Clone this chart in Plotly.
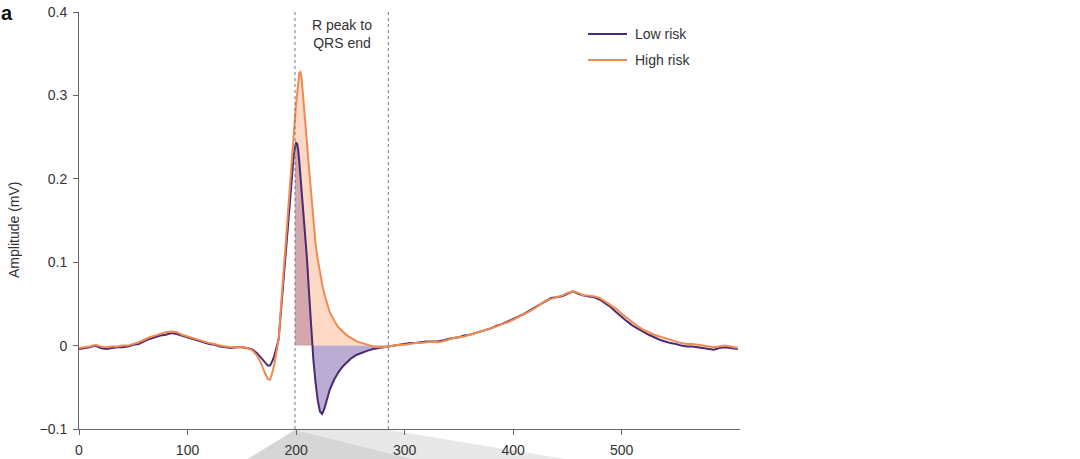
import numpy as np
import plotly.graph_objects as go

# ---------------- data ----------------
sample_x = [0, 5, 10, 15, 20, 25, 30, 35, 40, 45, 50, 55, 60, 65, 70, 75, 80, 85, 90, 95,
            100, 105, 110, 115, 120, 125, 130, 135, 140, 145, 150, 155, 160, 164, 168, 171,
            174, 176, 178, 180, 182, 184, 186, 188, 190, 192, 194, 196, 198, 199, 200, 201,
            202, 203, 204, 205, 206, 208, 210, 212, 214, 216, 218, 220, 222, 224, 226, 228,
            231, 235, 239, 243, 247, 251, 256, 261, 266, 271, 276, 280, 285,
            290, 295, 300, 305, 310, 315, 320, 325, 330, 335, 340, 345, 350, 355, 360, 365,
            370, 375, 380, 385, 390, 395, 400, 405, 410, 415, 420, 425, 430, 435, 440, 445,
            450, 455, 460, 465, 470, 475, 480, 485, 490, 495, 500, 505, 510, 515, 520, 525,
            530, 535, 540, 545, 550, 555, 560, 565, 570, 575, 580, 585, 590, 595, 600, 605, 607]

low_risk = [-0.004, -0.003, -0.002, 0.000, -0.003, -0.004, -0.003, -0.002, -0.002, -0.001,
            0.001, 0.002, 0.005, 0.008, 0.010, 0.012, 0.013, 0.015, 0.014, 0.012,
            0.010, 0.008, 0.006, 0.004, 0.002, 0.001, -0.001, -0.002, -0.003, -0.002,
            -0.002, -0.003, -0.005, -0.009, -0.015, -0.020,
            -0.024, -0.024, -0.019, -0.012, -0.003, 0.008, 0.040, 0.073, 0.107, 0.140,
            0.172, 0.203, 0.230, 0.238, 0.243, 0.242,
            0.234, 0.220, 0.204, 0.187, 0.170, 0.140, 0.105, 0.062, 0.015, -0.018,
            -0.045, -0.066, -0.079, -0.082, -0.076, -0.066,
            -0.053, -0.041, -0.032, -0.025, -0.020, -0.015, -0.011, -0.008, -0.006, -0.004,
            -0.003, -0.002, -0.001,
            0.000, 0.001, 0.002, 0.003, 0.003, 0.004, 0.005, 0.005, 0.005, 0.006, 0.008,
            0.009, 0.010, 0.012, 0.013, 0.015,
            0.017, 0.019, 0.021, 0.024, 0.026, 0.029, 0.032, 0.035, 0.038, 0.042, 0.046,
            0.050, 0.054, 0.057, 0.058, 0.059,
            0.062, 0.065, 0.062, 0.060, 0.059, 0.058, 0.055, 0.051, 0.046, 0.040, 0.034,
            0.029, 0.024, 0.020, 0.016, 0.013,
            0.010, 0.007, 0.005, 0.003, 0.002, 0.000, -0.001, -0.001, -0.002, -0.003,
            -0.004, -0.005, -0.003, -0.002, -0.003, -0.004, -0.004]

high_risk = [-0.003, -0.002, -0.001, 0.001, -0.001, -0.002, -0.001, -0.001, 0.000, 0.000,
             0.002, 0.004, 0.007, 0.010, 0.012, 0.014, 0.016, 0.017, 0.016, 0.013,
             0.011, 0.009, 0.007, 0.005, 0.003, 0.002, 0.000, -0.001, -0.002, -0.002,
             -0.002, -0.003, -0.006, -0.012, -0.022, -0.032,
             -0.040, -0.041, -0.033, -0.022, -0.008, 0.008, 0.045, 0.082, 0.118, 0.153,
             0.188, 0.222, 0.257, 0.273, 0.290, 0.306,
             0.319, 0.327, 0.328, 0.322, 0.306, 0.278, 0.244, 0.211, 0.180, 0.148,
             0.122, 0.103, 0.087, 0.074, 0.062, 0.053,
             0.040, 0.030, 0.022, 0.017, 0.012, 0.009, 0.005, 0.003, 0.001, -0.001,
             -0.002, -0.002, -0.001,
             0.000, 0.001, 0.001, 0.002, 0.003, 0.003, 0.004, 0.005, 0.004, 0.005, 0.007,
             0.009, 0.010, 0.011, 0.013, 0.015,
             0.017, 0.019, 0.021, 0.023, 0.026, 0.028, 0.031, 0.034, 0.037, 0.041, 0.045,
             0.050, 0.054, 0.056, 0.058, 0.060,
             0.063, 0.065, 0.063, 0.060, 0.060, 0.059, 0.057, 0.053, 0.049, 0.044, 0.038,
             0.033, 0.027, 0.023, 0.019, 0.016,
             0.013, 0.011, 0.009, 0.007, 0.005, 0.003, 0.002, 0.002, 0.001, 0.000,
             -0.001, -0.002, -0.001, 0.000, -0.001, -0.003, -0.003]

assert len(sample_x) == len(low_risk) == len(high_risk)

region_bounds = [199, 285]          # R peak, QRS end
region_label = "R peak to<br>QRS end"
series_names = ["Low risk", "High risk"]
y_tick_vals = [-0.1, 0, 0.1, 0.2, 0.3, 0.4]
y_tick_text = ["\u22120.1", "0", "0.1", "0.2", "0.3", "0.4"]
x_tick_vals = [0, 100, 200, 300, 400, 500]

# ---------------- style ----------------
C_LOW = "#4b2a70"
C_HIGH = "#ee8b52"
F_LOW = "rgba(120,90,170,0.50)"
F_HIGH = "rgba(247,160,110,0.40)"
FONT = "Liberation Sans, Arial, Helvetica, sans-serif"
TXT = "#333333"
AX = "#666666"
X_RANGE = [0, 609]
Y_RANGE = [-0.1, 0.4]

x = np.array(sample_x, dtype=float)
lo = np.array(low_risk)
hi = np.array(high_risk)
mask = (x >= region_bounds[0]) & (x <= region_bounds[1])

fig = go.Figure()
fig.add_trace(go.Scatter(x=x[mask], y=lo[mask], mode="lines", line=dict(width=0),
                         fill="tozeroy", fillcolor=F_LOW, showlegend=False, hoverinfo="skip"))
fig.add_trace(go.Scatter(x=x[mask], y=hi[mask], mode="lines", line=dict(width=0),
                         fill="tozeroy", fillcolor=F_HIGH, showlegend=False, hoverinfo="skip"))
fig.add_trace(go.Scatter(x=x, y=lo, mode="lines", name=series_names[0],
                         line=dict(color=C_LOW, width=2), showlegend=False))
fig.add_trace(go.Scatter(x=x, y=hi, mode="lines", name=series_names[1],
                         line=dict(color=C_HIGH, width=2), showlegend=False))

L, R, T, B = 79, 340, 12, 30
W, H = 1080, 459
pw, ph = W - L - R, H - T - B


def px_to_paper_x(px):
    return (px - L) / pw


def px_to_paper_y(py):
    return (H - B - py) / ph


def data_to_paper_x(v):
    return (v - X_RANGE[0]) / (X_RANGE[1] - X_RANGE[0])


shapes = []
# dotted region boundaries
for b in region_bounds:
    shapes.append(dict(type="line", xref="x", yref="paper", x0=b, x1=b, y0=0, y1=1,
                       line=dict(color="#777777", width=1, dash="dot"), layer="above"))

# grey zoom wedges under the axis (connect to a panel below)
yt = px_to_paper_y(430)
yb = px_to_paper_y(462)
xa = data_to_paper_x(region_bounds[0])
xb = data_to_paper_x(region_bounds[1])
x_bl = px_to_paper_x(243)
x_bm = px_to_paper_x(424)
x_br = px_to_paper_x(584)
shapes.append(dict(type="path", xref="paper", yref="paper",
                   path=f"M{xa},{yt} L{xb},{yt} L{x_br},{yb} L{x_bl},{yb} Z",
                   fillcolor="#e8e8e8", line=dict(width=0), layer="below"))
shapes.append(dict(type="path", xref="paper", yref="paper",
                   path=f"M{xa},{yt} L{x_bm},{yb} L{x_bl},{yb} Z",
                   fillcolor="#d6d6d6", line=dict(width=0), layer="below"))

# manual legend
legend_rows = [(34, C_LOW, series_names[0]), (60, C_HIGH, series_names[1])]
annotations = []
for py, col, name in legend_rows:
    yy = px_to_paper_y(py)
    shapes.append(dict(type="line", xref="paper", yref="paper",
                       x0=px_to_paper_x(588), x1=px_to_paper_x(627), y0=yy, y1=yy,
                       line=dict(color=col, width=2)))
    annotations.append(dict(x=px_to_paper_x(633), y=yy, xref="paper", yref="paper",
                            text=name, showarrow=False, xanchor="left", yanchor="middle",
                            font=dict(size=14, color=TXT, family=FONT)))

annotations.append(dict(x=(region_bounds[0] + region_bounds[1]) / 2, y=px_to_paper_y(34),
                        xref="x", yref="paper", text=region_label, showarrow=False,
                        xanchor="center", yanchor="middle",
                        font=dict(size=14, color=TXT, family=FONT)))
annotations.append(dict(x=px_to_paper_x(14), y=px_to_paper_y(230), xref="paper", yref="paper",
                        text="Amplitude (mV)", textangle=-90, showarrow=False,
                        xanchor="center", yanchor="middle",
                        font=dict(size=14, color=TXT, family=FONT)))
annotations.append(dict(x=px_to_paper_x(-1), y=px_to_paper_y(0), xref="paper", yref="paper",
                        text="<b>a</b>", showarrow=False, xanchor="left", yanchor="top",
                        font=dict(size=20, color="#111111", family=FONT)))

fig.update_layout(
    width=W, height=H,
    margin=dict(l=L, r=R, t=T, b=B, pad=0, autoexpand=False),
    paper_bgcolor="white", plot_bgcolor="white",
    font=dict(family=FONT, size=14, color=TXT),
    showlegend=False,
    shapes=shapes,
    annotations=annotations,
    xaxis=dict(range=X_RANGE, tickvals=x_tick_vals, ticks="outside", ticklen=5,
               tickcolor=AX, showline=True, linecolor=AX, linewidth=1,
               showgrid=False, zeroline=False, tickfont=dict(size=14, color=TXT),
               ticklabelstandoff=3, automargin=False),
    yaxis=dict(range=Y_RANGE, tickvals=y_tick_vals, ticktext=y_tick_text,
               ticks="outside", ticklen=5, tickcolor=AX, showline=True, linecolor=AX,
               linewidth=1, showgrid=False, zeroline=False,
               tickfont=dict(size=14, color=TXT), ticklabelstandoff=3, automargin=False),
)

fig.write_html("out.html")
